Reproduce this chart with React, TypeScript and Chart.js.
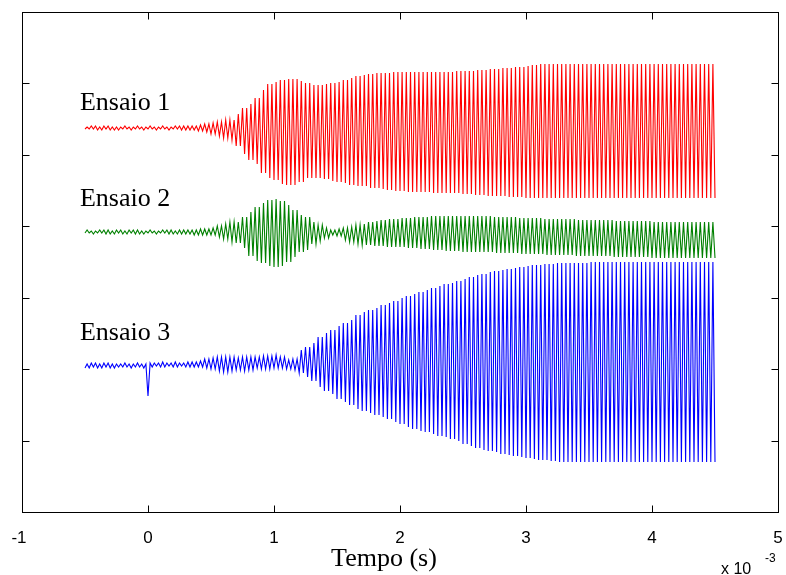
import React, { useEffect, useRef } from "react";
import { Chart, registerables } from "chart.js";

Chart.register(...registerables);

// time axis in units of 1e-3 s
const T_START = -0.5;
const ENV_STEP = 0.05; // envelope sampled every 0.05 ms
const PEAKS_PER_STEP = 3; // alternating peaks within each envelope step

const X_TICKS = [-1, 0, 1, 2, 3, 4, 5];
const Y_TICKS = [71.43, 142.86, 214.29, 285.71, 357.14, 428.57];

const SERIES_NAMES = ["Ensaio 1", "Ensaio 2", "Ensaio 3"];
const SERIES_COLORS = ["#ff0000", "#008000", "#0000ff"];
const LABEL_X = -0.54;
const LABEL_Y = [402, 306, 172];
const CENTERS = [384, 280, 147];

// single downward spike in Ensaio 3 at t = 0
const BLUE_SPIKE_T = 0.0;
const BLUE_SPIKE_DEPTH = 31;

// envelopes, one value per 0.05 ms from -0.5 to 4.5 ms
const RED_UP = [
  1, 2, 1, 2, 1, 1, 2, 1, 2, 1, 2, 1, 2, 1, 2, 2, 2, 2, 3, 4,
  5, 6, 8, 8, 14, 20, 24, 30, 38, 44, 46, 48, 49, 49, 47, 45, 43, 43, 44, 45,
  46, 48, 50, 52, 53, 54, 55, 55, 55, 56, 56, 56, 56, 56, 56, 56, 56, 56, 56, 57,
  57, 57, 58, 58, 59, 59, 60, 60, 61, 61, 62, 63, 64, 64, 64, 64, 64, 64, 64, 64,
  64, 64, 64, 64, 64, 64, 64, 64, 64, 64, 64, 64, 64, 64, 64, 64, 64, 64, 64, 64, 64,
];
const RED_DOWN = [
  1, 1, 2, 1, 2, 2, 1, 2, 1, 2, 1, 2, 1, 2, 1, 2, 2, 2, 3, 4,
  6, 8, 10, 12, 18, 26, 32, 36, 45, 50, 52, 56, 57, 57, 54, 50, 50, 50, 51, 53,
  54, 55, 57, 58, 58, 60, 60, 61, 62, 63, 63, 64, 64, 64, 64, 65, 65, 65, 65, 65,
  66, 66, 67, 67, 68, 68, 68, 69, 69, 69, 70, 70, 70, 70, 70, 70, 70, 70, 70, 70,
  70, 70, 70, 70, 70, 70, 70, 70, 70, 70, 70, 70, 70, 70, 70, 70, 70, 70, 70, 70, 70,
];
const GREEN_UP = [
  2, 1, 2, 2, 1, 2, 1, 2, 2, 1, 2, 1, 2, 2, 1, 2, 2, 2, 3, 3,
  4, 6, 8, 10, 10, 15, 20, 25, 29, 32, 33, 31, 27, 22, 17, 15, 10, 7, 4, 2,
  3, 4, 5, 7, 8, 10, 11, 12, 13, 13, 14, 14, 15, 15, 15, 16, 16, 16, 16, 16,
  16, 16, 16, 16, 16, 15, 15, 15, 15, 14, 14, 14, 14, 13, 13, 13, 13, 13, 12, 12,
  12, 12, 12, 12, 11, 11, 11, 11, 11, 11, 10, 10, 10, 10, 10, 10, 10, 10, 10, 10, 9,
];
const GREEN_DOWN = [
  1, 2, 1, 2, 2, 1, 2, 1, 2, 2, 1, 2, 1, 2, 2, 2, 2, 3, 3, 3,
  3, 5, 7, 10, 11, 16, 24, 29, 31, 34, 35, 34, 30, 25, 20, 18, 12, 9, 6, 3,
  4, 8, 10, 12, 13, 13, 14, 14, 15, 15, 15, 16, 16, 17, 17, 18, 18, 19, 19, 19,
  20, 20, 20, 20, 20, 21, 21, 21, 21, 22, 22, 22, 22, 23, 23, 23, 23, 23, 24, 24,
  24, 24, 24, 24, 25, 25, 25, 25, 25, 25, 26, 26, 26, 26, 26, 26, 26, 26, 26, 26, 26,
];
const BLUE_UP = [
  1, 2, 1, 2, 1, 1, 2, 1, 2, 1, 2, 2, 3, 2, 3, 2, 3, 3, 4, 6,
  7, 8, 8, 8, 7, 8, 8, 8, 9, 9, 10, 8, 5, 6, 15, 18, 22, 28, 32, 35,
  39, 42, 45, 50, 53, 55, 57, 60, 62, 64, 67, 69, 71, 73, 75, 77, 79, 81, 82, 84,
  86, 88, 90, 91, 93, 94, 95, 96, 97, 98, 99, 100, 100, 101, 101, 102, 102, 102, 102, 102,
  103, 103, 103, 103, 103, 103, 103, 103, 103, 103, 103, 103, 103, 103, 103, 103, 103, 103, 103, 103, 103,
];
const BLUE_DOWN = [
  3, 2, 3, 2, 3, 2, 2, 3, 2, 3, 2, 1, 2, 1, 2, 1, 2, 2, 2, 3,
  4, 6, 7, 6, 5, 6, 5, 3, 4, 4, 3, 3, 4, 5, 8, 12, 16, 22, 26, 29,
  34, 37, 40, 44, 46, 48, 50, 52, 54, 57, 59, 62, 64, 66, 67, 69, 71, 72, 74, 76,
  79, 81, 83, 85, 86, 87, 89, 90, 91, 92, 93, 94, 95, 95, 96, 97, 97, 97, 97, 97,
  97, 97, 97, 97, 97, 97, 97, 97, 97, 97, 97, 97, 97, 97, 97, 97, 97, 97, 97, 97, 97,
];

function buildSeries(
  center: number,
  up: number[],
  down: number[],
  spikeT: number | null = null,
  spikeDepth = 0
) {
  const pts: { x: number; y: number }[] = [];
  const n = (up.length - 1) * PEAKS_PER_STEP;
  const dt = ENV_STEP / PEAKS_PER_STEP;
  for (let k = 0; k <= n; k++) {
    const i = Math.min(up.length - 1, Math.floor(k / PEAKS_PER_STEP));
    const t = T_START + k * dt;
    let y = k % 2 === 0 ? center - down[i] : center + up[i];
    if (spikeT !== null && Math.abs(t - spikeT) < dt / 2) y = center - spikeDepth;
    pts.push({ x: t, y });
  }
  return pts;
}

const framePlugin = {
  id: "frame",
  afterDraw(chart: any) {
    const { ctx, chartArea: a, scales } = chart;
    const xs = scales.x;
    const ys = scales.y;
    ctx.save();
    ctx.strokeStyle = "#000";
    ctx.lineWidth = 1;
    const L = Math.round(a.left) + 0.5;
    const R = Math.round(a.right) + 0.5;
    const T = Math.round(a.top) + 0.5;
    const B = Math.round(a.bottom) + 0.5;
    ctx.strokeRect(L, T, R - L, B - T);
    const TL = 7;
    ctx.beginPath();
    for (const v of X_TICKS) {
      const px = Math.round(xs.getPixelForValue(v)) + 0.5;
      ctx.moveTo(px, B);
      ctx.lineTo(px, B - TL);
      ctx.moveTo(px, T);
      ctx.lineTo(px, T + TL);
    }
    for (const v of Y_TICKS) {
      const py = Math.round(ys.getPixelForValue(v)) + 0.5;
      ctx.moveTo(L, py);
      ctx.lineTo(L + TL, py);
      ctx.moveTo(R, py);
      ctx.lineTo(R - TL, py);
    }
    ctx.stroke();

    ctx.fillStyle = "#000";
    ctx.font = '17px "Liberation Sans", Arial, sans-serif';
    ctx.textAlign = "center";
    ctx.textBaseline = "alphabetic";
    for (const v of X_TICKS) {
      ctx.fillText(String(v), xs.getPixelForValue(v) - (v < 0 ? 3 : 0), 543);
    }
    ctx.textAlign = "left";
    ctx.font = '16px "Liberation Sans", Arial, sans-serif';
    ctx.fillText("x 10", 721, 574);
    ctx.font = '12px "Liberation Sans", Arial, sans-serif';
    ctx.fillText("-3", 765, 562);

    ctx.font = '26px "Liberation Serif", "Times New Roman", serif';
    ctx.textAlign = "center";
    ctx.fillText("Tempo (s)", 384, 566);

    ctx.textAlign = "left";
    SERIES_NAMES.forEach((name, i) => {
      ctx.fillText(name, xs.getPixelForValue(LABEL_X), ys.getPixelForValue(LABEL_Y[i]));
    });
    ctx.restore();
  },
};

export default function App() {
  const ref = useRef<HTMLCanvasElement | null>(null);
  useEffect(() => {
    if (!ref.current) return;
    const datasets = [
      buildSeries(CENTERS[0], RED_UP, RED_DOWN),
      buildSeries(CENTERS[1], GREEN_UP, GREEN_DOWN),
      buildSeries(CENTERS[2], BLUE_UP, BLUE_DOWN, BLUE_SPIKE_T, BLUE_SPIKE_DEPTH),
    ];
    const chart = new Chart(ref.current, {
      type: "line",
      data: {
        datasets: datasets.map((data, i) => ({
          label: SERIES_NAMES[i],
          data,
          borderColor: SERIES_COLORS[i],
          borderWidth: 1.1,
          pointRadius: 0,
          tension: 0,
          fill: false,
        })),
      },
      options: {
        animation: false,
        responsive: true,
        maintainAspectRatio: false,
        layout: { padding: { left: 22, right: 8, top: 12, bottom: 63 } },
        plugins: { legend: { display: false }, tooltip: { enabled: false } },
        scales: {
          x: { type: "linear", min: -1, max: 5, display: false },
          y: { type: "linear", min: 0, max: 500, display: false },
        },
      },
      plugins: [framePlugin],
    });
    return () => chart.destroy();
  }, []);
  return (
    <div style={{ position: "absolute", left: 0, top: 0, width: 786, height: 575, background: "#fff" }}>
      <canvas ref={ref} />
    </div>
  );
}
